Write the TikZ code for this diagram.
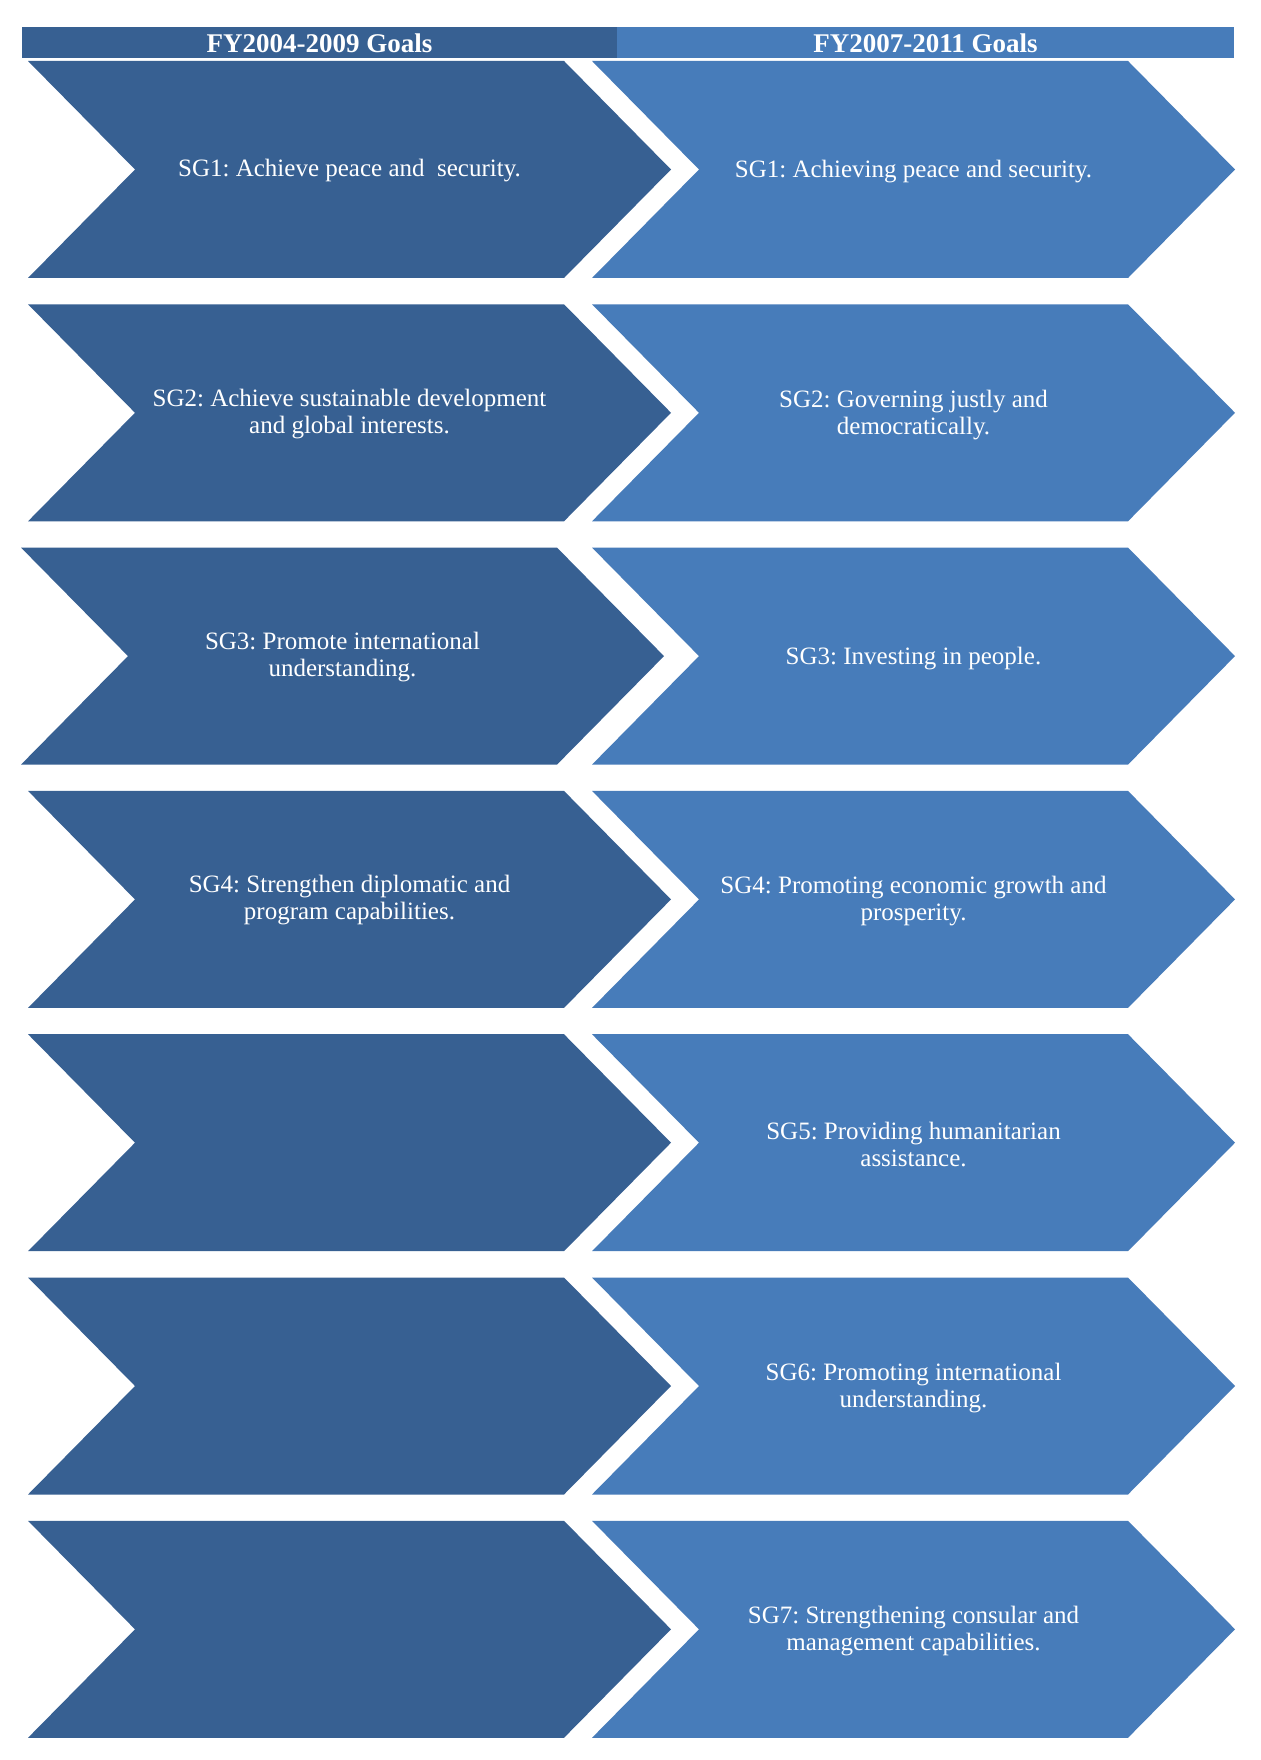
\documentclass[tikz,border=0pt]{standalone}
\usepackage{fontspec}
\setmainfont{Liberation Serif}
\frenchspacing
\definecolor{darkblue}{HTML}{376092}
\definecolor{lightblue}{HTML}{477CBA}
\newcommand\chevshape[3]{%
  \fill[#3] (#1,#2) -- (#1+536,#2) -- (#1+643,#2+108.5) -- (#1+536,#2+217)
    -- (#1,#2+217) -- (#1+107,#2+108.5) -- cycle;}
\begin{document}
\begin{tikzpicture}[x=1pt,y=-1pt,
  goal/.style={text=white, font=\fontsize{25}{27}\selectfont\frenchspacing, align=center, inner sep=0pt},
  head/.style={text=white, font=\fontsize{27}{30}\selectfont\bfseries, inner sep=0pt}]
\useasboundingbox (0,0) rectangle (1260,1760);
\fill[white] (0,0) rectangle (1260,1760);
% header
\fill[darkblue] (22,27) rectangle (617,58);
\fill[lightblue] (617,27) rectangle (1234,58);
\node[head] (h1) at (319.5,43) {FY2004-2009 Goals};
\node[head] (h2) at (925.5,43) {FY2007-2011 Goals};
% chevrons
\foreach \i in {0,...,6}{
  \pgfmathsetmacro\top{61+243.3*\i}
  \ifnum\i=2
    \chevshape{21}{\top}{darkblue}
  \else
    \chevshape{28}{\top}{darkblue}
  \fi
  \chevshape{592}{\top}{lightblue}
}
% left texts
\node[goal] (l1) at (349.5,61+109.5) {SG1: Achieve peace and~ security.};
\node[goal] (l2) at (349.5,304.3+109.5) {SG2: Achieve sustainable development\\and global interests.};
\node[goal] (l3) at (342.5,547.6+109.5) {SG3: Promote international\\understanding.};
\node[goal] (l4) at (349.5,790.9+109.5) {SG4: Strengthen diplomatic and\\program capabilities.};
% right texts
\node[goal] (r1) at (913.5,61+110.5) {SG1: Achieving peace and security.};
\node[goal] (r2) at (913.5,304.3+110.5) {SG2: Governing justly and\\democratically.};
\node[goal] (r3) at (913.5,547.6+110.5) {SG3: Investing in people.};
\node[goal] (r4) at (913.5,790.9+110.5) {SG4: Promoting economic growth and\\prosperity.};
\node[goal] (r5) at (913.5,1034.2+110.5) {SG5: Providing humanitarian\\assistance.};
\node[goal] (r6) at (913.5,1277.5+110.5) {SG6: Promoting international\\understanding.};
\node[goal] (r7) at (913.5,1520.8+110.5) {SG7: Strengthening consular and\\management capabilities.};
\end{tikzpicture}
\end{document}
